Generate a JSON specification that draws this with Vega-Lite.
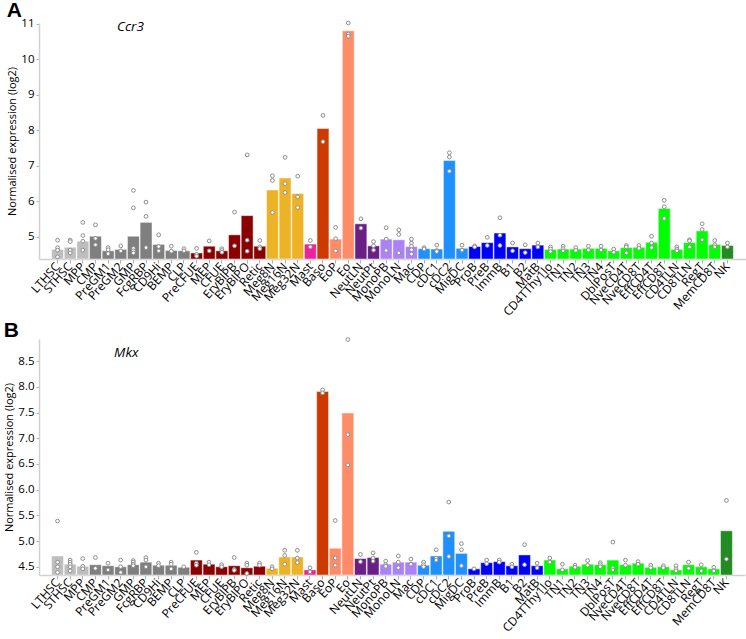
{
  "$schema": "https://vega.github.io/schema/vega-lite/v6.json",
  "padding": {"left": 3, "top": 0, "right": 0, "bottom": 0},
  "spacing": 1,
  "align": "none",
  "config": {
    "view": {"stroke": null},
    "axis": {"grid": false, "labelColor": "black", "titleColor": "black", "labelFont": "Open Sans", "titleFont": "Open Sans", "titleFontWeight": "normal", "domainColor": "#d0d0d0", "tickColor": "#b0b0b0"},
    "title": {"anchor": "start", "frame": "bounds", "fontSize": 21, "font": "Liberation Sans", "fontWeight": "bold", "color": "black"}
  },
  "datasets": {
    "a_mean": [
      {"cell":"LTHSC","g":"HSC","v":4.65},{"cell":"STHSC","g":"HSC","v":4.71},{"cell":"MPP","g":"HSC","v":4.88},
      {"cell":"CMP","g":"Prog","v":5.02},{"cell":"PreGM1","g":"Prog","v":4.61},{"cell":"PreGM2","g":"Prog","v":4.65},{"cell":"GMP","g":"Prog","v":5.02},{"cell":"FcgRBP","g":"Prog","v":5.41},{"cell":"CD9Hi","g":"Prog","v":4.79},{"cell":"BEMP","g":"Prog","v":4.62},{"cell":"CLP","g":"Prog","v":4.61},
      {"cell":"PreCFUE","g":"Ery","v":4.55},{"cell":"MEP","g":"Ery","v":4.74},{"cell":"CFUE","g":"Ery","v":4.61},{"cell":"EryBlPB","g":"Ery","v":5.06},{"cell":"EryBlPO","g":"Ery","v":5.60},{"cell":"Retic","g":"Ery","v":4.74},
      {"cell":"Meg8N","g":"Meg","v":6.32},{"cell":"Meg16N","g":"Meg","v":6.66},{"cell":"Meg32N","g":"Meg","v":6.22},
      {"cell":"Mast","g":"Mast","v":4.80},{"cell":"Baso","g":"Baso","v":8.05},{"cell":"EoP","g":"Eo","v":4.94},{"cell":"Eo","g":"Eo","v":10.80},
      {"cell":"NeutLN","g":"Neut","v":5.37},{"cell":"NeutPt","g":"Neut","v":4.75},
      {"cell":"MonoPB","g":"Mono","v":4.94},{"cell":"MonoLN","g":"Mono","v":4.92},{"cell":"Mac","g":"Mono","v":4.73},
      {"cell":"CDP","g":"DC","v":4.67},{"cell":"cDC1","g":"DC","v":4.66},{"cell":"cDC2","g":"DC","v":7.15},{"cell":"MigDC","g":"DC","v":4.68},
      {"cell":"ProB","g":"B","v":4.73},{"cell":"PreB","g":"B","v":4.84},{"cell":"ImmB","g":"B","v":5.11},{"cell":"B1","g":"B","v":4.72},{"cell":"B2","g":"B","v":4.67},{"cell":"MatB","g":"B","v":4.77},
      {"cell":"CD4TThy1lo","g":"T","v":4.65},{"cell":"TN1","g":"T","v":4.66},{"cell":"TN2","g":"T","v":4.66},{"cell":"TN3","g":"T","v":4.68},{"cell":"TN4","g":"T","v":4.68},{"cell":"DblPosT","g":"T","v":4.61},{"cell":"NveCD4T","g":"T","v":4.70},{"cell":"NveCD8T","g":"T","v":4.71},{"cell":"EffCD4T","g":"T","v":4.85},{"cell":"EffCD8T","g":"T","v":5.80},{"cell":"CD4TLN","g":"T","v":4.65},{"cell":"CD8TLN","g":"T","v":4.84},{"cell":"RegT","g":"T","v":5.17},{"cell":"MemCD8T","g":"T","v":4.79},
      {"cell":"NK","g":"NK","v":4.76}
    ],
    "a_rep": [
      {"cell":"LTHSC","v":4.91},{"cell":"LTHSC","v":4.70},{"cell":"LTHSC","v":4.63},{"cell":"LTHSC","v":4.44},
      {"cell":"STHSC","v":4.91},{"cell":"STHSC","v":4.87},{"cell":"STHSC","v":4.63},{"cell":"STHSC","v":4.55},
      {"cell":"MPP","v":5.41},{"cell":"MPP","v":5.04},{"cell":"MPP","v":4.88},{"cell":"MPP","v":4.63},
      {"cell":"CMP","v":5.34},{"cell":"CMP","v":4.96},{"cell":"CMP","v":4.78},
      {"cell":"PreGM1","v":4.70},{"cell":"PreGM1","v":4.64},{"cell":"PreGM1","v":4.53},
      {"cell":"PreGM2","v":4.75},{"cell":"PreGM2","v":4.61},
      {"cell":"GMP","v":6.31},{"cell":"GMP","v":5.82},{"cell":"GMP","v":4.68},{"cell":"GMP","v":4.61},{"cell":"GMP","v":4.55},
      {"cell":"FcgRBP","v":5.98},{"cell":"FcgRBP","v":5.58},{"cell":"FcgRBP","v":4.70},
      {"cell":"CD9Hi","v":5.06},{"cell":"CD9Hi","v":4.73},{"cell":"CD9Hi","v":4.61},
      {"cell":"BEMP","v":4.74},{"cell":"BEMP","v":4.60},
      {"cell":"CLP","v":4.67},{"cell":"CLP","v":4.61},
      {"cell":"PreCFUE","v":4.68},{"cell":"PreCFUE","v":4.51},{"cell":"PreCFUE","v":4.46},
      {"cell":"MEP","v":4.89},{"cell":"MEP","v":4.61},
      {"cell":"CFUE","v":4.67},{"cell":"CFUE","v":4.62},{"cell":"CFUE","v":4.57},
      {"cell":"EryBlPB","v":5.70},{"cell":"EryBlPB","v":4.75},
      {"cell":"EryBlPO","v":7.31},{"cell":"EryBlPO","v":4.91},{"cell":"EryBlPO","v":4.60},
      {"cell":"Retic","v":4.90},{"cell":"Retic","v":4.72},{"cell":"Retic","v":4.67},
      {"cell":"Meg8N","v":6.72},{"cell":"Meg8N","v":6.59},{"cell":"Meg8N","v":5.69},
      {"cell":"Meg16N","v":7.24},{"cell":"Meg16N","v":6.50},{"cell":"Meg16N","v":6.25},
      {"cell":"Meg32N","v":6.71},{"cell":"Meg32N","v":6.13},{"cell":"Meg32N","v":5.83},
      {"cell":"Mast","v":4.90},{"cell":"Mast","v":4.72},
      {"cell":"Baso","v":8.42},{"cell":"Baso","v":7.68},
      {"cell":"EoP","v":5.27},{"cell":"EoP","v":4.95},{"cell":"EoP","v":4.61},
      {"cell":"Eo","v":11.02},{"cell":"Eo","v":10.71},{"cell":"Eo","v":10.65},
      {"cell":"NeutLN","v":5.51},{"cell":"NeutLN","v":5.25},
      {"cell":"NeutPt","v":4.87},{"cell":"NeutPt","v":4.75},{"cell":"NeutPt","v":4.63},
      {"cell":"MonoPB","v":5.26},{"cell":"MonoPB","v":4.94},{"cell":"MonoPB","v":4.62},
      {"cell":"MonoLN","v":5.20},{"cell":"MonoLN","v":5.07},{"cell":"MonoLN","v":4.55},
      {"cell":"Mac","v":4.94},{"cell":"Mac","v":4.83},{"cell":"Mac","v":4.74},{"cell":"Mac","v":4.64},{"cell":"Mac","v":4.52},
      {"cell":"CDP","v":4.70},{"cell":"CDP","v":4.66},
      {"cell":"cDC1","v":4.77},{"cell":"cDC1","v":4.62},{"cell":"cDC1","v":4.59},
      {"cell":"cDC2","v":7.37},{"cell":"cDC2","v":7.25},{"cell":"cDC2","v":6.85},
      {"cell":"MigDC","v":4.77},{"cell":"MigDC","v":4.63},
      {"cell":"ProB","v":4.75},{"cell":"ProB","v":4.72},
      {"cell":"PreB","v":4.99},{"cell":"PreB","v":4.76},
      {"cell":"ImmB","v":5.54},{"cell":"ImmB","v":5.05},{"cell":"ImmB","v":4.76},
      {"cell":"B1","v":4.83},{"cell":"B1","v":4.61},
      {"cell":"B2","v":4.78},{"cell":"B2","v":4.56},
      {"cell":"MatB","v":4.83},{"cell":"MatB","v":4.72},
      {"cell":"CD4TThy1lo","v":4.72},{"cell":"CD4TThy1lo","v":4.66},{"cell":"CD4TThy1lo","v":4.59},
      {"cell":"TN1","v":4.74},{"cell":"TN1","v":4.67},{"cell":"TN1","v":4.61},
      {"cell":"TN2","v":4.70},{"cell":"TN2","v":4.62},
      {"cell":"TN3","v":4.74},{"cell":"TN3","v":4.63},
      {"cell":"TN4","v":4.74},{"cell":"TN4","v":4.63},
      {"cell":"DblPosT","v":4.66},{"cell":"DblPosT","v":4.57},
      {"cell":"NveCD4T","v":4.76},{"cell":"NveCD4T","v":4.72},{"cell":"NveCD4T","v":4.55},
      {"cell":"NveCD8T","v":4.76},{"cell":"NveCD8T","v":4.68},
      {"cell":"EffCD4T","v":5.02},{"cell":"EffCD4T","v":4.83},{"cell":"EffCD4T","v":4.70},
      {"cell":"EffCD8T","v":6.03},{"cell":"EffCD8T","v":5.85},{"cell":"EffCD8T","v":5.52},
      {"cell":"CD4TLN","v":4.72},{"cell":"CD4TLN","v":4.66},{"cell":"CD4TLN","v":4.61},
      {"cell":"CD8TLN","v":4.92},{"cell":"CD8TLN","v":4.89},{"cell":"CD8TLN","v":4.72},
      {"cell":"RegT","v":5.37},{"cell":"RegT","v":5.21},{"cell":"RegT","v":4.92},
      {"cell":"MemCD8T","v":4.90},{"cell":"MemCD8T","v":4.78},{"cell":"MemCD8T","v":4.72},
      {"cell":"NK","v":4.83},{"cell":"NK","v":4.72}
    ],
    "b_mean": [
      {"cell":"LTHSC","g":"HSC","v":4.71},{"cell":"STHSC","g":"HSC","v":4.55},{"cell":"MPP","g":"HSC","v":4.51},
      {"cell":"CMP","g":"Prog","v":4.54},{"cell":"PreGM1","g":"Prog","v":4.52},{"cell":"PreGM2","g":"Prog","v":4.50},{"cell":"GMP","g":"Prog","v":4.54},{"cell":"FcgRBP","g":"Prog","v":4.59},{"cell":"CD9Hi","g":"Prog","v":4.53},{"cell":"BEMP","g":"Prog","v":4.53},{"cell":"CLP","g":"Prog","v":4.49},
      {"cell":"PreCFUE","g":"Ery","v":4.63},{"cell":"MEP","g":"Ery","v":4.55},{"cell":"CFUE","g":"Ery","v":4.50},{"cell":"EryBlPB","g":"Ery","v":4.52},{"cell":"EryBlPO","g":"Ery","v":4.48},{"cell":"Retic","g":"Ery","v":4.51},
      {"cell":"Meg8N","g":"Meg","v":4.47},{"cell":"Meg16N","g":"Meg","v":4.69},{"cell":"Meg32N","g":"Meg","v":4.69},
      {"cell":"Mast","g":"Mast","v":4.44},{"cell":"Baso","g":"Baso","v":7.91},{"cell":"EoP","g":"Eo","v":4.86},{"cell":"Eo","g":"Eo","v":7.49},
      {"cell":"NeutLN","g":"Neut","v":4.66},{"cell":"NeutPt","g":"Neut","v":4.68},
      {"cell":"MonoPB","g":"Mono","v":4.55},{"cell":"MonoLN","g":"Mono","v":4.59},{"cell":"Mac","g":"Mono","v":4.59},
      {"cell":"CDP","g":"DC","v":4.53},{"cell":"cDC1","g":"DC","v":4.71},{"cell":"cDC2","g":"DC","v":5.19},{"cell":"MigDC","g":"DC","v":4.76},
      {"cell":"ProB","g":"B","v":4.46},{"cell":"PreB","g":"B","v":4.58},{"cell":"ImmB","g":"B","v":4.60},{"cell":"B1","g":"B","v":4.52},{"cell":"B2","g":"B","v":4.73},{"cell":"MatB","g":"B","v":4.52},
      {"cell":"CD4TThy1lo","g":"T","v":4.63},{"cell":"TN1","g":"T","v":4.46},{"cell":"TN2","g":"T","v":4.51},{"cell":"TN3","g":"T","v":4.55},{"cell":"TN4","g":"T","v":4.54},{"cell":"DblPosT","g":"T","v":4.63},{"cell":"NveCD4T","g":"T","v":4.54},{"cell":"NveCD8T","g":"T","v":4.57},{"cell":"EffCD4T","g":"T","v":4.49},{"cell":"EffCD8T","g":"T","v":4.50},{"cell":"CD4TLN","g":"T","v":4.44},{"cell":"CD8TLN","g":"T","v":4.54},{"cell":"RegT","g":"T","v":4.50},{"cell":"MemCD8T","g":"T","v":4.46},
      {"cell":"NK","g":"NK","v":5.20}
    ],
    "b_rep": [
      {"cell":"LTHSC","v":5.39},{"cell":"LTHSC","v":4.59},{"cell":"LTHSC","v":4.50},{"cell":"LTHSC","v":4.39},
      {"cell":"STHSC","v":4.63},{"cell":"STHSC","v":4.59},{"cell":"STHSC","v":4.55},{"cell":"STHSC","v":4.50},{"cell":"STHSC","v":4.42},
      {"cell":"MPP","v":4.66},{"cell":"MPP","v":4.51},{"cell":"MPP","v":4.46},
      {"cell":"CMP","v":4.68},{"cell":"CMP","v":4.47},
      {"cell":"PreGM1","v":4.57},{"cell":"PreGM1","v":4.44},
      {"cell":"PreGM2","v":4.63},{"cell":"PreGM2","v":4.50},{"cell":"PreGM2","v":4.39},
      {"cell":"GMP","v":4.62},{"cell":"GMP","v":4.59},{"cell":"GMP","v":4.55},{"cell":"GMP","v":4.52},
      {"cell":"FcgRBP","v":4.68},{"cell":"FcgRBP","v":4.63},{"cell":"FcgRBP","v":4.50},
      {"cell":"CD9Hi","v":4.57},{"cell":"CD9Hi","v":4.52},
      {"cell":"BEMP","v":4.59},{"cell":"BEMP","v":4.55},{"cell":"BEMP","v":4.46},
      {"cell":"CLP","v":4.50},
      {"cell":"PreCFUE","v":4.78},{"cell":"PreCFUE","v":4.57},{"cell":"PreCFUE","v":4.53},
      {"cell":"MEP","v":4.59},{"cell":"MEP","v":4.54},
      {"cell":"CFUE","v":4.54},{"cell":"CFUE","v":4.50},
      {"cell":"EryBlPB","v":4.68},{"cell":"EryBlPB","v":4.45},{"cell":"EryBlPB","v":4.43},
      {"cell":"EryBlPO","v":4.57},{"cell":"EryBlPO","v":4.53},{"cell":"EryBlPO","v":4.37},
      {"cell":"Retic","v":4.57},{"cell":"Retic","v":4.53},
      {"cell":"Meg8N","v":4.50},{"cell":"Meg8N","v":4.46},
      {"cell":"Meg16N","v":4.82},{"cell":"Meg16N","v":4.72},{"cell":"Meg16N","v":4.55},
      {"cell":"Meg32N","v":4.82},{"cell":"Meg32N","v":4.67},{"cell":"Meg32N","v":4.58},
      {"cell":"Mast","v":4.48},{"cell":"Mast","v":4.40},
      {"cell":"Baso","v":7.94},{"cell":"Baso","v":7.88},
      {"cell":"EoP","v":5.40},{"cell":"EoP","v":4.67},{"cell":"EoP","v":4.53},
      {"cell":"Eo","v":8.92},{"cell":"Eo","v":7.07},{"cell":"Eo","v":6.48},
      {"cell":"NeutLN","v":4.74},{"cell":"NeutLN","v":4.60},
      {"cell":"NeutPt","v":4.77},{"cell":"NeutPt","v":4.67},{"cell":"NeutPt","v":4.61},
      {"cell":"MonoPB","v":4.61},{"cell":"MonoPB","v":4.54},{"cell":"MonoPB","v":4.51},
      {"cell":"MonoLN","v":4.71},{"cell":"MonoLN","v":4.59},{"cell":"MonoLN","v":4.48},
      {"cell":"Mac","v":4.65},{"cell":"Mac","v":4.55},
      {"cell":"CDP","v":4.59},{"cell":"CDP","v":4.54},{"cell":"CDP","v":4.50},
      {"cell":"cDC1","v":4.83},{"cell":"cDC1","v":4.67},{"cell":"cDC1","v":4.63},
      {"cell":"cDC2","v":5.76},{"cell":"cDC2","v":5.10},{"cell":"cDC2","v":4.70},
      {"cell":"MigDC","v":4.95},{"cell":"MigDC","v":4.83},{"cell":"MigDC","v":4.52},
      {"cell":"ProB","v":4.46},
      {"cell":"PreB","v":4.63},{"cell":"PreB","v":4.56},
      {"cell":"ImmB","v":4.63},{"cell":"ImmB","v":4.59},
      {"cell":"B1","v":4.55},{"cell":"B1","v":4.50},
      {"cell":"B2","v":4.93},{"cell":"B2","v":4.54},
      {"cell":"MatB","v":4.57},{"cell":"MatB","v":4.48},
      {"cell":"CD4TThy1lo","v":4.67},{"cell":"CD4TThy1lo","v":4.59},
      {"cell":"TN1","v":4.55},{"cell":"TN1","v":4.44},
      {"cell":"TN2","v":4.53},{"cell":"TN2","v":4.49},
      {"cell":"TN3","v":4.62},{"cell":"TN3","v":4.53},
      {"cell":"TN4","v":4.58},{"cell":"TN4","v":4.54},{"cell":"TN4","v":4.50},
      {"cell":"DblPosT","v":4.98},{"cell":"DblPosT","v":4.48},{"cell":"DblPosT","v":4.44},
      {"cell":"NveCD4T","v":4.63},{"cell":"NveCD4T","v":4.53},
      {"cell":"NveCD8T","v":4.60},{"cell":"NveCD8T","v":4.55},
      {"cell":"EffCD4T","v":4.53},{"cell":"EffCD4T","v":4.48},
      {"cell":"EffCD8T","v":4.52},{"cell":"EffCD8T","v":4.48},
      {"cell":"CD4TLN","v":4.52},{"cell":"CD4TLN","v":4.46},{"cell":"CD4TLN","v":4.42},
      {"cell":"CD8TLN","v":4.59},{"cell":"CD8TLN","v":4.47},
      {"cell":"RegT","v":4.54},{"cell":"RegT","v":4.42},
      {"cell":"MemCD8T","v":4.49},{"cell":"MemCD8T","v":4.42},
      {"cell":"NK","v":5.79},{"cell":"NK","v":4.65}
    ]
  },
  "vconcat": [
    {
      "title": {"text": "A", "offset": -3.5},
      "width": 707,
      "height": 236,
      "encoding": {
        "x": {"field": "cell", "type": "nominal", "title": null,
          "scale": {"domain": ["LTHSC","STHSC","MPP","CMP","PreGM1","PreGM2","GMP","FcgRBP","CD9Hi","BEMP","CLP","PreCFUE","MEP","CFUE","EryBlPB","EryBlPO","Retic","Meg8N","Meg16N","Meg32N","Mast","Baso","EoP","Eo","NeutLN","NeutPt","MonoPB","MonoLN","Mac","CDP","cDC1","cDC2","MigDC","ProB","PreB","ImmB","B1","B2","MatB","CD4TThy1lo","TN1","TN2","TN3","TN4","DblPosT","NveCD4T","NveCD8T","EffCD4T","EffCD8T","CD4TLN","CD8TLN","RegT","MemCD8T","NK"], "paddingInner": 0.06, "paddingOuter": 1.3},
          "axis": {"labelAngle": -48, "labelAlign": "right", "labelBaseline": "middle", "labelFontSize": 12, "tickSize": 4, "labelPadding": 1, "domainWidth": 1.5}},
        "y": {"field": "v", "type": "quantitative", "title": "Normalised expression (log2)",
          "scale": {"domain": [4.38, 11.02], "nice": false, "zero": false},
          "axis": {"values": [5,6,7,8,9,10,11], "labelFontSize": 11.5, "titleFontSize": 11, "tickSize": 3, "labelPadding": 2, "titlePadding": 3, "domainWidth": 1.5}}
      },
      "layer": [
        {
          "data": {"name": "a_mean"},
          "mark": {"type": "bar", "stroke": "white", "strokeOpacity": 0.45, "strokeWidth": 1},
          "encoding": {
            "y2": {"datum": 4.38},
            "color": {"field": "g", "type": "nominal", "legend": null,
              "scale": {"domain": ["HSC","Prog","Ery","Meg","Mast","Baso","Eo","Neut","Mono","DC","B","T","NK"],
                "range": ["#bebebe","#7f7f7f","#8b0000","#edb326","#f0219b","#cc3a00","#ff8c69","#6a1f87","#ab82f7","#1e90ff","#0000ff","#00ff00","#228b22"]}}
          }
        },
        {
          "data": {"name": "a_rep"},
          "mark": {"type": "circle", "size": 14, "fill": "white", "stroke": "#8c8c8c", "strokeWidth": 1, "opacity": 1}
        },
        {
          "data": {"name": "a_mean"},
          "transform": [{"filter": "datum.cell === 'GMP'"}],
          "mark": {"type": "text", "text": "Ccr3", "font": "Open Sans", "fontStyle": "italic", "fontSize": 13.5, "align": "center", "baseline": "middle", "color": "black", "dx": -3},
          "encoding": {
            "y": {"datum": 10.92, "type": "quantitative", "scale": {"domain": [4.38, 11.02], "nice": false, "zero": false}}
          }
        }
      ]
    },
    {
      "title": {"text": "B", "offset": -5},
      "width": 706,
      "height": 236,
      "encoding": {
        "x": {"field": "cell", "type": "nominal", "title": null,
          "scale": {"domain": ["LTHSC","STHSC","MPP","CMP","PreGM1","PreGM2","GMP","FcgRBP","CD9Hi","BEMP","CLP","PreCFUE","MEP","CFUE","EryBlPB","EryBlPO","Retic","Meg8N","Meg16N","Meg32N","Mast","Baso","EoP","Eo","NeutLN","NeutPt","MonoPB","MonoLN","Mac","CDP","cDC1","cDC2","MigDC","ProB","PreB","ImmB","B1","B2","MatB","CD4TThy1lo","TN1","TN2","TN3","TN4","DblPosT","NveCD4T","NveCD8T","EffCD4T","EffCD8T","CD4TLN","CD8TLN","RegT","MemCD8T","NK"], "paddingInner": 0.06, "paddingOuter": 1.3},
          "axis": {"labelAngle": -48, "labelAlign": "right", "labelBaseline": "middle", "labelFontSize": 12, "tickSize": 4, "labelPadding": 1, "domainWidth": 1.5}},
        "y": {"field": "v", "type": "quantitative", "title": "Normalised expression (log2)",
          "scale": {"domain": [4.34, 8.93], "nice": false, "zero": false},
          "axis": {"values": [4.5,5,5.5,6,6.5,7,7.5,8,8.5], "format": ".1f", "labelFontSize": 11.5, "titleFontSize": 11, "tickSize": 3, "labelPadding": 2, "titlePadding": 3, "domainWidth": 1.5}}
      },
      "layer": [
        {
          "data": {"name": "b_mean"},
          "mark": {"type": "bar", "stroke": "white", "strokeOpacity": 0.45, "strokeWidth": 1},
          "encoding": {
            "y2": {"datum": 4.34},
            "color": {"field": "g", "type": "nominal", "legend": null,
              "scale": {"domain": ["HSC","Prog","Ery","Meg","Mast","Baso","Eo","Neut","Mono","DC","B","T","NK"],
                "range": ["#bebebe","#7f7f7f","#8b0000","#edb326","#f0219b","#cc3a00","#ff8c69","#6a1f87","#ab82f7","#1e90ff","#0000ff","#00ff00","#228b22"]}}
          }
        },
        {
          "data": {"name": "b_rep"},
          "mark": {"type": "circle", "size": 14, "fill": "white", "stroke": "#8c8c8c", "strokeWidth": 1, "opacity": 1}
        },
        {
          "data": {"name": "b_mean"},
          "transform": [{"filter": "datum.cell === 'GMP'"}],
          "mark": {"type": "text", "text": "Mkx", "font": "Open Sans", "fontStyle": "italic", "fontSize": 13.5, "align": "center", "baseline": "middle", "color": "black", "dx": -7},
          "encoding": {
            "y": {"datum": 8.66, "type": "quantitative", "scale": {"domain": [4.34, 8.93], "nice": false, "zero": false}}
          }
        }
      ]
    }
  ]
}
